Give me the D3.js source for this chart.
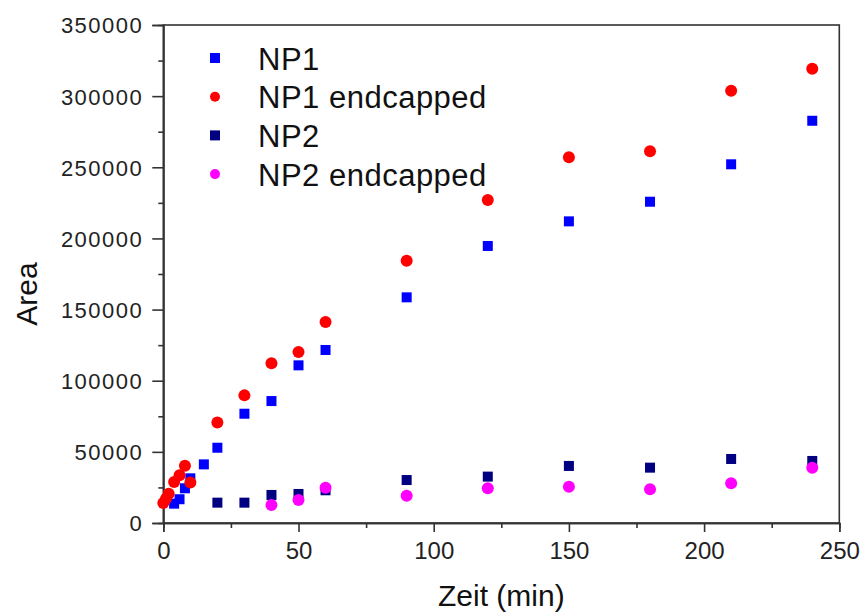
<!DOCTYPE html>
<html>
<head>
<meta charset="utf-8">
<script src="https://cdn.jsdelivr.net/npm/d3@7"></script>
<style>
  body { margin: 0; background: #fff; }
  text { font-family: "Liberation Sans", Arial, sans-serif; }
</style>
</head>
<body>
<script>
const w = 860;
const h = 613;
const plotLeft = 163.3, plotRight = 839.3, plotTop = 25, plotBottom = 523;

// data
const np1Time = [4, 6, 8, 10, 15, 20, 30, 40, 50, 60, 90, 120, 150, 180, 210, 240];
const np1Area = [13600, 16700, 24400, 31400, 41200, 52900, 76800, 85700, 110800, 121600, 158600, 194700, 212000, 225800, 252100, 282700];

const np1eTime = [0, 1, 2, 4, 6, 8, 10, 20, 30, 40, 50, 60, 90, 120, 150, 180, 210, 240];
const np1eArea = [14000, 17000, 20600, 28800, 33500, 40200, 28400, 70700, 89700, 112200, 120200, 141300, 184300, 227000, 257000, 261200, 303800, 319300];

const np2Time = [20, 30, 40, 50, 60, 90, 120, 150, 180, 210, 240];
const np2Area = [14300, 14300, 19700, 20400, 23000, 30200, 32600, 40100, 38900, 45000, 43600];

const np2eTime = [40, 50, 60, 90, 120, 150, 180, 210, 240];
const np2eArea = [12600, 16200, 24800, 19200, 24400, 25500, 23700, 27900, 38900];

const xTicks = [0, 50, 100, 150, 200, 250];
const xMinor = [25, 75, 125, 175, 225];
const yTicks = [0, 50000, 100000, 150000, 200000, 250000, 300000, 350000];
const yMinor = [25000, 75000, 125000, 175000, 225000, 275000, 325000];

const seriesNames = ["NP1", "NP1 endcapped", "NP2", "NP2 endcapped"];
const series = [
  {name: seriesNames[0], t: np1Time, v: np1Area, color: "#0000ff", shape: "square"},
  {name: seriesNames[1], t: np1eTime, v: np1eArea, color: "#ff0000", shape: "circle"},
  {name: seriesNames[2], t: np2Time, v: np2Area, color: "#000080", shape: "square"},
  {name: seriesNames[3], t: np2eTime, v: np2eArea, color: "#ff00ff", shape: "circle"}
];

const svg = d3.select("body")
              .append("svg")
              .attr("width", w)
              .attr("height", h);

const xScale = d3.scaleLinear()
                 .domain([0, 250])
                 .range([plotLeft, plotRight]);

const yScale = d3.scaleLinear()
                 .domain([0, 350000])
                 .range([plotBottom, plotTop]);

// frame
svg.append("rect")
   .attr("x", plotLeft)
   .attr("y", plotTop)
   .attr("width", plotRight - plotLeft)
   .attr("height", plotBottom - plotTop)
   .attr("fill", "none")
   .attr("stroke", "#333")
   .attr("stroke-width", 1.6);

// axes
const xAxis = d3.axisBottom(xScale).tickValues(xTicks).tickSize(9).tickPadding(5).tickFormat(d3.format("d"));
const xAxisMinor = d3.axisBottom(xScale).tickValues(xMinor).tickSize(5).tickFormat("");
const yAxis = d3.axisLeft(yScale).tickValues(yTicks).tickSize(11).tickPadding(9).tickFormat(d3.format("d"));
const yAxisMinor = d3.axisLeft(yScale).tickValues(yMinor).tickSize(5).tickFormat("");

const gx = svg.append("g").attr("transform", "translate(0," + plotBottom + ")").call(xAxis);
svg.append("g").attr("transform", "translate(0," + plotBottom + ")").call(xAxisMinor);
const gy = svg.append("g").attr("transform", "translate(" + plotLeft + ",0)").call(yAxis);
svg.append("g").attr("transform", "translate(" + plotLeft + ",0)").call(yAxisMinor);

svg.selectAll(".domain").attr("stroke", "#333").attr("stroke-width", 1.6);
svg.selectAll(".tick line").attr("stroke", "#333").attr("stroke-width", 1.6);

gx.selectAll(".tick text")
  .attr("font-size", 24)
  .attr("fill", "#222")
  .attr("dy", "0.9em");

gy.selectAll(".tick text")
  .attr("font-size", 22)
  .attr("fill", "#222")
  .attr("letter-spacing", 1.5)
  .attr("dy", "0.36em");

// axis titles
svg.append("text")
   .attr("x", (plotLeft + plotRight) / 2)
   .attr("y", 606)
   .attr("text-anchor", "middle")
   .attr("font-size", 30)
   .attr("fill", "#111")
   .text("Zeit (min)");

svg.append("text")
   .attr("transform", "translate(37,294) rotate(-90)")
   .attr("text-anchor", "middle")
   .attr("font-size", 30)
   .attr("fill", "#111")
   .text("Area");

// points
series.forEach(function(s) {
  const pts = s.t.map((t, i) => ({t: t, v: s.v[i]}));
  const g = svg.append("g");
  if (s.shape === "square") {
    g.selectAll("rect")
     .data(pts)
     .enter()
     .append("rect")
     .attr("x", (d) => xScale(d.t) - 5)
     .attr("y", (d) => yScale(d.v) - 5)
     .attr("width", 10)
     .attr("height", 10)
     .attr("fill", s.color);
  } else {
    g.selectAll("circle")
     .data(pts)
     .enter()
     .append("circle")
     .attr("cx", (d) => xScale(d.t))
     .attr("cy", (d) => yScale(d.v))
     .attr("r", 6)
     .attr("fill", s.color);
  }
});

// legend
const legend = svg.append("g").attr("transform", "translate(215,58)");
series.forEach(function(s, i) {
  const row = legend.append("g").attr("transform", "translate(0," + (i * 38.7) + ")");
  if (s.shape === "square") {
    row.append("rect").attr("x", -5).attr("y", -5).attr("width", 10).attr("height", 10).attr("fill", s.color);
  } else {
    row.append("circle").attr("r", 5).attr("fill", s.color);
  }
  row.append("text")
     .attr("x", 43)
     .attr("y", 11.5)
     .attr("font-size", 31)
     .attr("fill", "#111")
     .attr("letter-spacing", 0.5)
     .text(s.name);
});
</script>
</body>
</html>
